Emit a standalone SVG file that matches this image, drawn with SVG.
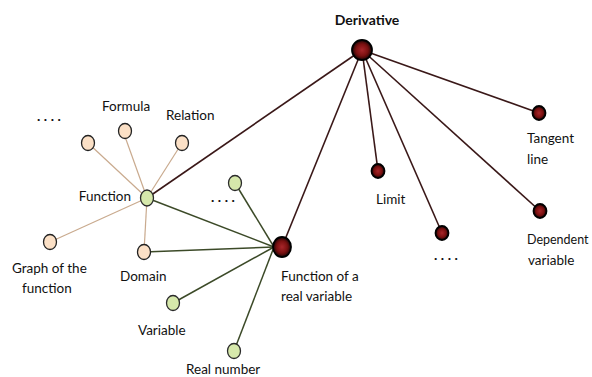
<svg xmlns="http://www.w3.org/2000/svg" width="592" height="377" viewBox="0 0 592 377">
<defs>
<radialGradient id="red" cx="50%" cy="50%" r="50%">
<stop offset="0" stop-color="#a8262a"/>
<stop offset="0.6" stop-color="#7a1010"/>
<stop offset="1" stop-color="#1a0505"/>
</radialGradient>
<style>
text{font-family:Lato,"Open Sans","Liberation Sans",sans-serif;font-size:13.5px;fill:#111}
.b{font-weight:bold;font-size:14px}
.red{fill:url(#red);stroke:#000;stroke-width:1.8}
.beige{fill:#fbe0c6;stroke:#222;stroke-width:1.3}
.green{fill:#d6e8ab;stroke:#2a2a2a;stroke-width:1.3}
.ld{stroke:#3a1818;stroke-width:1.6;fill:none}
.lg{stroke:#3c4a28;stroke-width:1.5;fill:none}
.lb{stroke:#c9aa8e;stroke-width:1.2;fill:none}
.dots{font-size:14px;letter-spacing:3.5px;font-weight:bold}
.sm{font-size:12.5px}
</style>
</defs>
<rect width="592" height="377" fill="#fff"/>
<g id="connectors">
<line class="lb" x1="147" y1="198" x2="123" y2="131"/>
<line class="lb" x1="147" y1="198" x2="182" y2="143"/>
<line class="lb" x1="147" y1="198" x2="88" y2="143"/>
<line class="lb" x1="147" y1="198" x2="50" y2="242"/>
<line class="lb" x1="147" y1="198" x2="144" y2="252"/>
<line class="ld" x1="362" y1="50" x2="147" y2="198"/>
<line class="ld" x1="362" y1="50" x2="282" y2="247"/>
<line class="ld" x1="362" y1="50" x2="378" y2="171"/>
<line class="ld" x1="362" y1="50" x2="442" y2="233"/>
<line class="ld" x1="362" y1="50" x2="540" y2="211"/>
<line class="ld" x1="362" y1="50" x2="539" y2="113"/>
<line class="lg" x1="147" y1="198" x2="274" y2="247"/>
<line class="lg" x1="144" y1="252" x2="274" y2="247"/>
<line class="lg" x1="235" y1="183" x2="274" y2="247"/>
<line class="lg" x1="173" y1="303" x2="274" y2="247"/>
<line class="lg" x1="234" y1="351" x2="274" y2="247"/>
</g>
<g id="derivative"><circle class="red" cx="362" cy="50" r="10"/><text class="b" x="367" y="25" text-anchor="middle">Derivative</text></g>
<g id="tangent"><ellipse class="red" cx="539" cy="113" rx="6.5" ry="7"/><text x="527" y="143">Tangent</text><text x="527" y="164">line</text></g>
<g id="limit"><ellipse class="red" cx="378" cy="171" rx="6.5" ry="7"/><text x="376" y="204">Limit</text></g>
<g id="dots-red"><ellipse class="red" cx="442" cy="233" rx="6.5" ry="7"/><text class="dots" x="434" y="260">....</text></g>
<g id="dependent"><ellipse class="red" cx="540" cy="211" rx="6.5" ry="7"/><text class="sm" x="527" y="244">Dependent</text><text x="528" y="265">variable</text></g>
<g id="real-function"><ellipse class="red" cx="282" cy="247" rx="9" ry="10"/><text x="281" y="281">Function of a</text><text x="281" y="301">real variable</text></g>
<g id="function"><ellipse class="green" cx="147" cy="198" rx="6.5" ry="8"/><text x="131" y="201" text-anchor="end">Function</text></g>
<g id="formula"><ellipse class="beige" cx="125" cy="131" rx="6.5" ry="7.5"/><text x="102" y="111">Formula</text></g>
<g id="relation"><ellipse class="beige" cx="182" cy="143" rx="6.5" ry="7.5"/><text x="166" y="120">Relation</text></g>
<g id="dots-beige"><ellipse class="beige" cx="88" cy="143" rx="6.5" ry="7.5"/><text class="dots" x="37" y="121">....</text></g>
<g id="graph"><ellipse class="beige" cx="50" cy="242" rx="6.5" ry="7.5"/><text x="12" y="273">Graph of the</text><text x="22" y="293">function</text></g>
<g id="domain"><ellipse class="beige" cx="144" cy="252" rx="6.5" ry="7.5"/><text x="120" y="281">Domain</text></g>
<g id="dots-green"><ellipse class="green" cx="235" cy="183" rx="6.5" ry="7.5"/><text class="dots" x="211" y="202">....</text></g>
<g id="variable"><ellipse class="green" cx="173" cy="303" rx="6.5" ry="7.5"/><text x="138" y="335">Variable</text></g>
<g id="real-number"><ellipse class="green" cx="234" cy="351" rx="6.5" ry="7.5"/><text x="186" y="374">Real number</text></g>
</svg>
